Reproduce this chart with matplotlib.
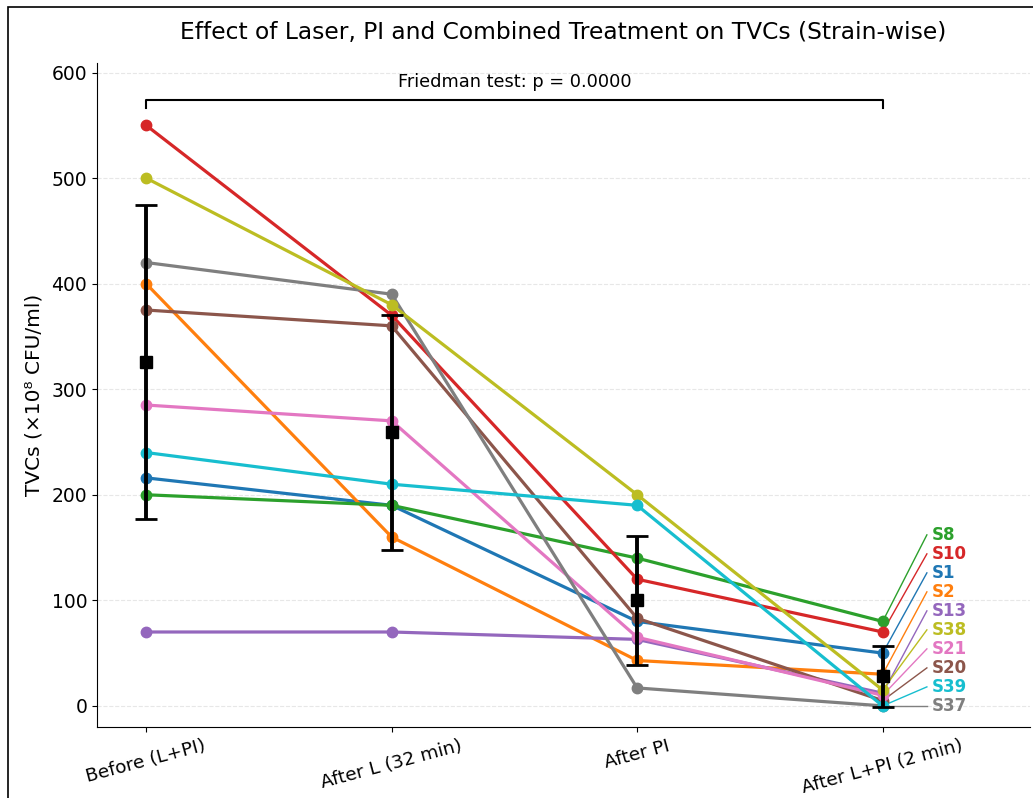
import matplotlib
matplotlib.use("Agg")
import matplotlib.pyplot as plt
from matplotlib.patches import Rectangle
import numpy as np

stages = ["Before (L+PI)", "After L (32 min)", "After PI", "After L+PI (2 min)"]

strains = ["S1", "S2", "S8", "S10", "S13", "S20", "S21", "S37", "S38", "S39"]
tvc = {
    "S1":  [216, 190, 80, 50],
    "S2":  [400, 160, 43, 30],
    "S8":  [200, 190, 140, 80],
    "S10": [550, 370, 120, 70],
    "S13": [70, 70, 63, 12],
    "S20": [375, 360, 83, 5],
    "S21": [285, 270, 65, 10],
    "S37": [420, 390, 17, 0],
    "S38": [500, 380, 200, 15],
    "S39": [240, 210, 190, 0],
}

# group mean and SD per stage
means = [325.6, 259, 100, 28]
sds = [149, 111, 61, 29]

# order and heights of the strain labels on the right
label_order = ["S8", "S10", "S1", "S2", "S13", "S38", "S21", "S20", "S39", "S37"]
label_y = [162, 144, 126, 108, 90, 72, 54, 36, 18, 0]

p_text = "Friedman test: p = 0.0000"

colors = plt.rcParams["axes.prop_cycle"].by_key()["color"]
col = {s: colors[i % 10] for i, s in enumerate(strains)}

fig = plt.figure(figsize=(10.33, 7.98), dpi=100)
ax = fig.add_axes([97 / 1033, 1 - 727 / 798, (1030 - 97) / 1033, (727 - 63) / 798])

x = np.arange(len(stages))
for s in strains:
    ax.plot(x, tvc[s], "-o", color=col[s], lw=2.3, markersize=7.5, zorder=3)

ax.errorbar(x, means, yerr=sds, fmt="s", color="black", ecolor="black",
            markersize=8, elinewidth=2.8, capsize=8, capthick=2, zorder=5)

for s, ly in zip(label_order, label_y):
    ax.plot([3, 3.18], [tvc[s][-1], ly], color=col[s], lw=1, zorder=2)
    ax.text(3.2, ly, s, color=col[s], fontsize=12, fontweight="bold",
            va="center", ha="left")

# significance bracket
ax.plot([0, 0, 3, 3], [566, 574, 574, 566], color="black", lw=1.5)
ax.text(1.5, 591, p_text, ha="center", va="center", fontsize=12.8)

ax.set_xlim(-0.2, 3.6)
ax.set_ylim(-20, 609)
ax.set_xticks(x)
ax.set_xticklabels(stages, rotation=15, fontsize=13.3)
ax.set_yticks(np.arange(0, 601, 100))
ax.tick_params(axis="y", labelsize=13.5)
ax.set_ylabel("TVCs (×10⁸ CFU/ml)", fontsize=14.5, labelpad=6)
ax.set_title("Effect of Laser, PI and Combined Treatment on TVCs (Strain-wise)",
             fontsize=16.8, pad=17)
ax.grid(axis="y", linestyle="--", alpha=0.3)
ax.spines["top"].set_visible(False)
ax.spines["right"].set_visible(False)

# frame around the figure (only top and left visible in the crop)
fig.patches.append(Rectangle((8 / 1033, -0.1), 1.2, 1 - 7 / 798 + 0.1,
                             transform=fig.transFigure, fill=False,
                             edgecolor="black", lw=1.2))

fig.savefig("out.png", dpi=100)
